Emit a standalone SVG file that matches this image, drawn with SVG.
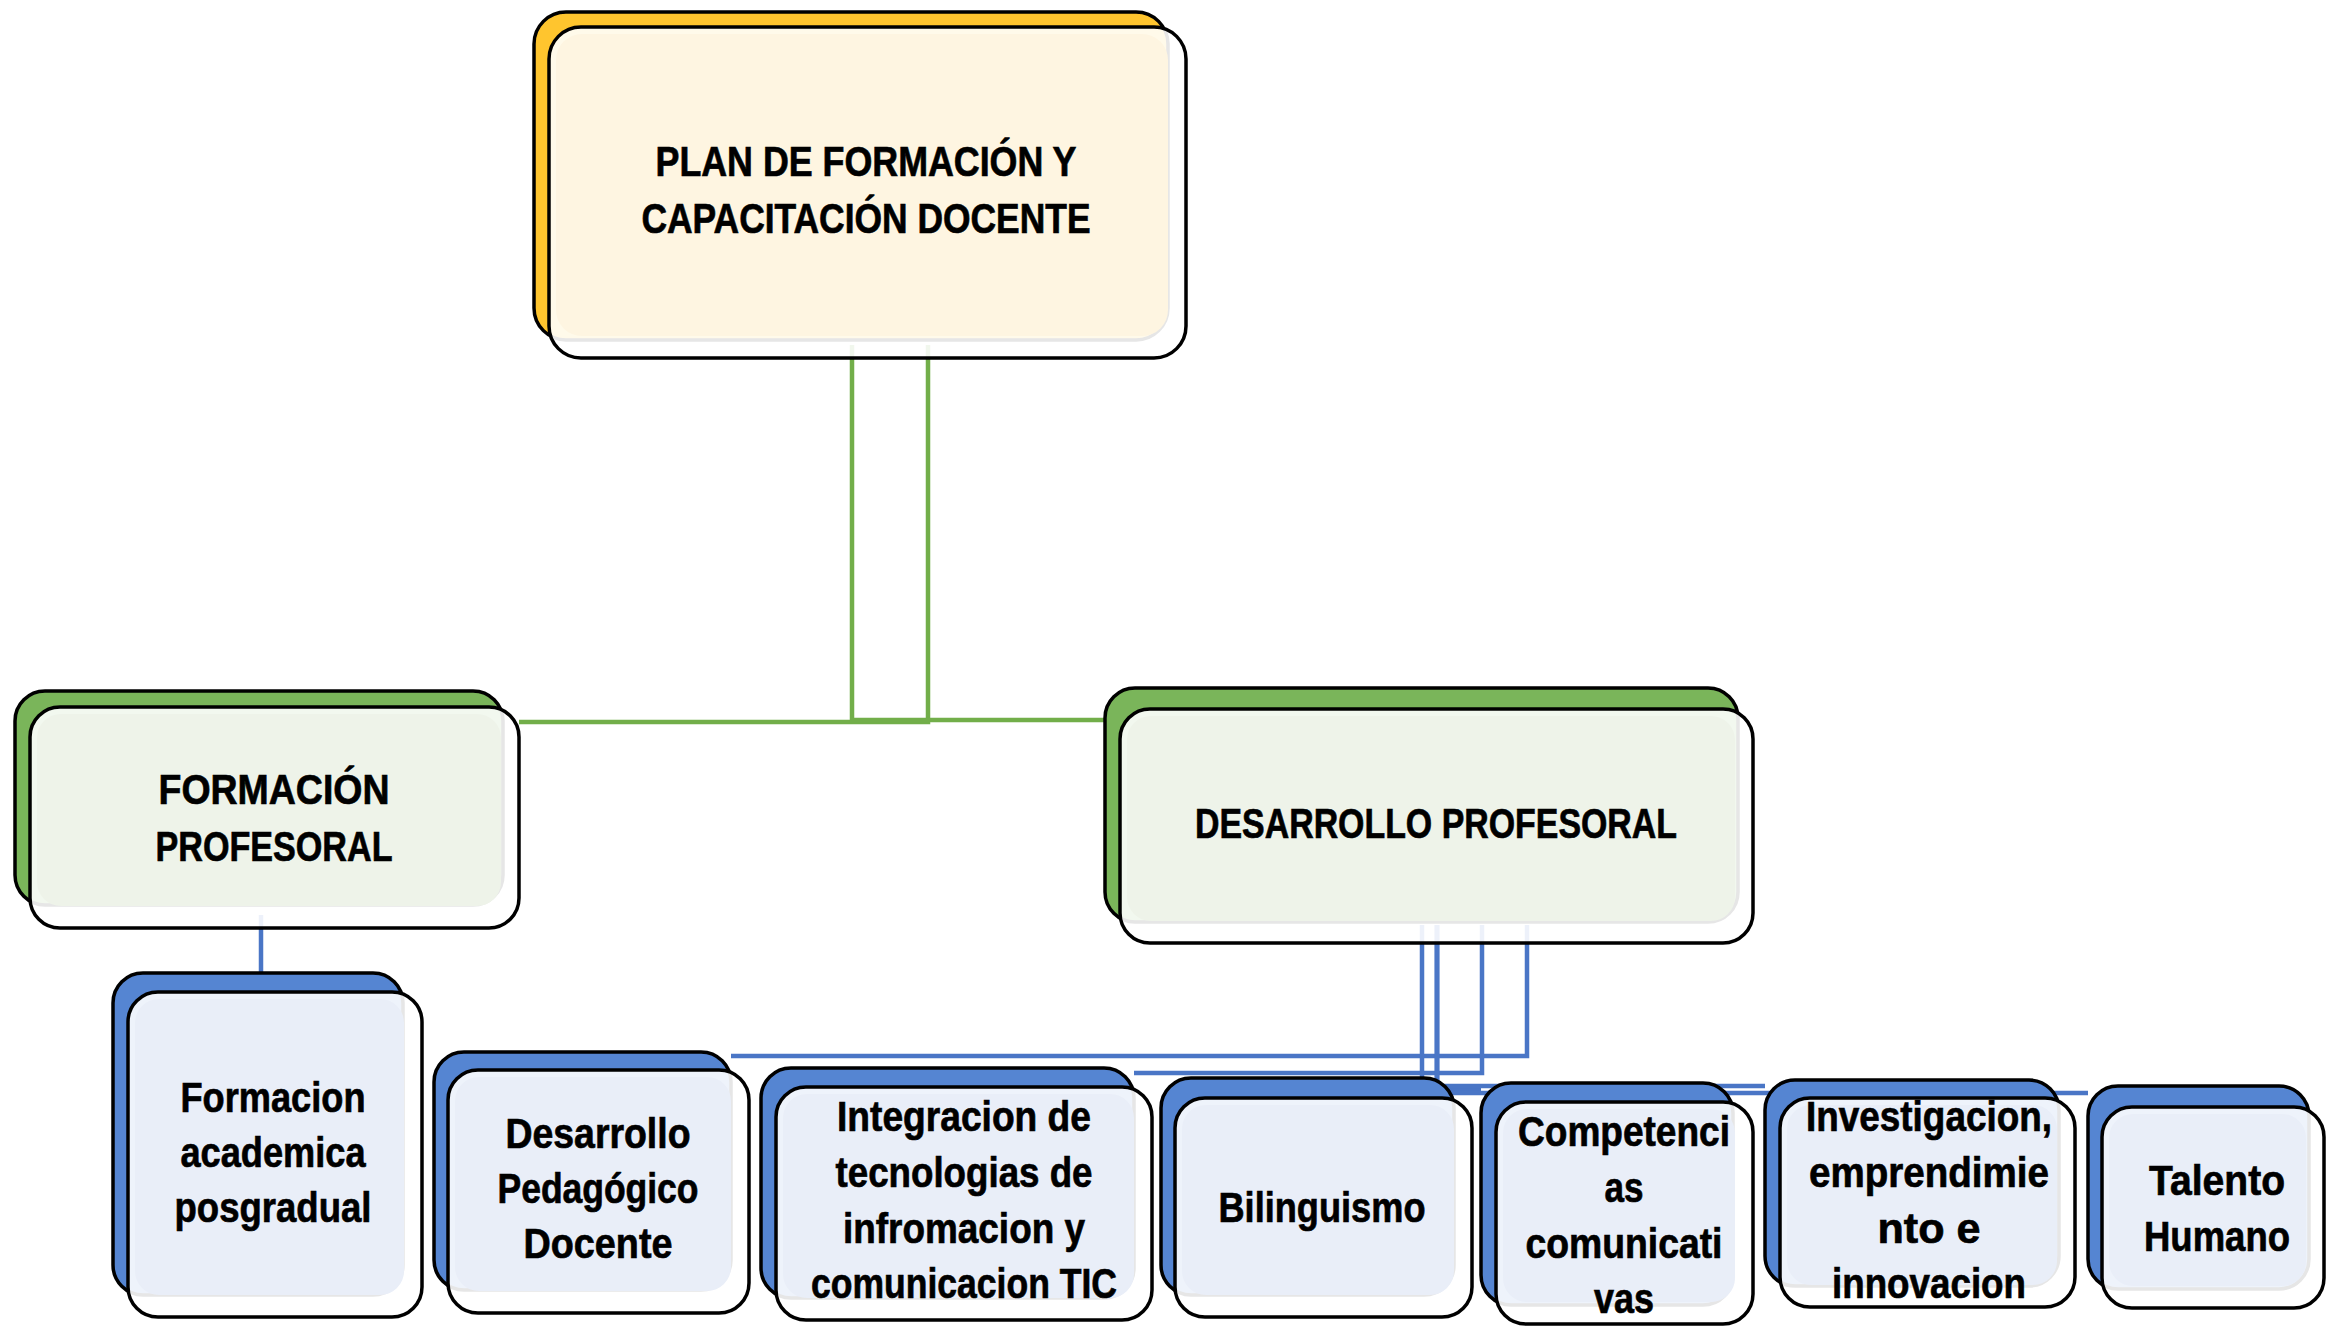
<svg xmlns="http://www.w3.org/2000/svg" width="2339" height="1326" viewBox="0 0 2339 1326">
<style>
.bg{fill:#ffffff}
.back{stroke:#000;stroke-width:3.5}
.by{fill:#FFC52E}
.bgr{fill:#7AB55A}
.bb{fill:#5585D2}
.front{fill:#ffffff;fill-opacity:0.9;stroke:#000;stroke-width:3.5}
.iy{fill:#FEF5E1}
.ig{fill:#EEF3E9}
.ib{fill:#E9EEF8}
.cg{fill:none;stroke:#72AE4A;stroke-width:4.5}
.cb{fill:none;stroke:#4A76C6;stroke-width:4.5}
.t{font-family:"Liberation Sans",Arial,sans-serif;font-weight:bold;font-size:43px;fill:#000;stroke:#000;stroke-width:0.7;text-anchor:middle}
</style>
<rect class="bg" x="0" y="0" width="2339" height="1326"/>
<g id="connectors">
<path class="cg" d="M928,345 V722 H519"/>
<path class="cg" d="M852,345 V720 H1105"/>
<path class="cb" d="M261,915 V975"/>
<path class="cb" d="M1527,925 V1056 H731"/>
<path class="cb" d="M1482,925 V1073 H1134"/>
<path class="cb" d="M1422,925 V1085"/>
<path class="cb" d="M1437,925 V1089 H1481"/>
<path class="cb" d="M1437,925 V1086 H1765"/>
<path class="cb" d="M1437,925 V1093 H2088"/>
</g>
<g id="node-plan">
<rect class="back by" x="534" y="12" width="634" height="328" rx="32"/>
<rect class="front" x="549" y="27" width="637" height="331" rx="32"/>
<rect class="iy" x="556" y="34" width="612" height="302" rx="26"/>
<text class="t" x="866" y="176" textLength="421" lengthAdjust="spacingAndGlyphs">PLAN DE FORMACIÓN Y</text>
<text class="t" x="866" y="233" textLength="449" lengthAdjust="spacingAndGlyphs">CAPACITACIÓN DOCENTE</text>
</g>
<g id="node-formacion-profesoral">
<rect class="back bgr" x="15" y="691" width="488" height="214" rx="30"/>
<rect class="front" x="30" y="707" width="489" height="221" rx="30"/>
<rect class="ig" x="37" y="714" width="464" height="192" rx="24"/>
<text class="t" x="274" y="804" textLength="231" lengthAdjust="spacingAndGlyphs">FORMACIÓN</text>
<text class="t" x="274" y="861" textLength="237" lengthAdjust="spacingAndGlyphs">PROFESORAL</text>
</g>
<g id="node-desarrollo-profesoral">
<rect class="back bgr" x="1105" y="688" width="633" height="234" rx="30"/>
<rect class="front" x="1120" y="709" width="633" height="234" rx="30"/>
<rect class="ig" x="1127" y="716" width="608" height="205" rx="24"/>
<text class="t" x="1436" y="838" textLength="482" lengthAdjust="spacingAndGlyphs">DESARROLLO PROFESORAL</text>
</g>
<g id="node-formacion-academica">
<rect class="back bb" x="113" y="973" width="290" height="322" rx="30"/>
<rect class="front" x="128" y="992" width="294" height="325" rx="30"/>
<rect class="ib" x="135" y="999" width="269" height="296" rx="24"/>
<text class="t" x="273" y="1112" textLength="185" lengthAdjust="spacingAndGlyphs">Formacion</text>
<text class="t" x="273" y="1167" textLength="185" lengthAdjust="spacingAndGlyphs">academica</text>
<text class="t" x="273" y="1222" textLength="197" lengthAdjust="spacingAndGlyphs">posgradual</text>
</g>
<g id="node-desarrollo-pedagogico">
<rect class="back bb" x="434" y="1052" width="297" height="238" rx="30"/>
<rect class="front" x="448" y="1070" width="301" height="243" rx="30"/>
<rect class="ib" x="455" y="1077" width="276" height="214" rx="24"/>
<text class="t" x="598" y="1148" textLength="185" lengthAdjust="spacingAndGlyphs">Desarrollo</text>
<text class="t" x="598" y="1203" textLength="201" lengthAdjust="spacingAndGlyphs">Pedagógico</text>
<text class="t" x="598" y="1258" textLength="149" lengthAdjust="spacingAndGlyphs">Docente</text>
</g>
<g id="node-integracion-tic">
<rect class="back bb" x="761" y="1068" width="373" height="230" rx="30"/>
<rect class="front" x="776" y="1087" width="376" height="233" rx="30"/>
<rect class="ib" x="783" y="1094" width="351" height="204" rx="24"/>
<text class="t" x="964" y="1131" textLength="254" lengthAdjust="spacingAndGlyphs">Integracion de</text>
<text class="t" x="964" y="1187" textLength="257" lengthAdjust="spacingAndGlyphs">tecnologias de</text>
<text class="t" x="964" y="1243" textLength="242" lengthAdjust="spacingAndGlyphs">infromacion y</text>
<text class="t" x="964" y="1298" textLength="306" lengthAdjust="spacingAndGlyphs">comunicacion TIC</text>
</g>
<g id="node-bilinguismo">
<rect class="back bb" x="1161" y="1078" width="293" height="217" rx="30"/>
<rect class="front" x="1175" y="1098" width="297" height="219" rx="30"/>
<rect class="ib" x="1182" y="1105" width="272" height="190" rx="24"/>
<text class="t" x="1322" y="1222" textLength="207" lengthAdjust="spacingAndGlyphs">Bilinguismo</text>
</g>
<g id="node-competencias">
<rect class="back bb" x="1481" y="1083" width="252" height="222" rx="30"/>
<rect class="front" x="1496" y="1102" width="257" height="222" rx="30"/>
<rect class="ib" x="1503" y="1109" width="232" height="193" rx="24"/>
<text class="t" x="1624" y="1146" textLength="212" lengthAdjust="spacingAndGlyphs">Competenci</text>
<text class="t" x="1624" y="1202" textLength="39" lengthAdjust="spacingAndGlyphs">as</text>
<text class="t" x="1624" y="1258" textLength="197" lengthAdjust="spacingAndGlyphs">comunicati</text>
<text class="t" x="1624" y="1313" textLength="60" lengthAdjust="spacingAndGlyphs">vas</text>
</g>
<g id="node-investigacion">
<rect class="back bb" x="1765" y="1080" width="294" height="206" rx="30"/>
<rect class="front" x="1780" y="1098" width="295" height="209" rx="30"/>
<rect class="ib" x="1787" y="1105" width="270" height="180" rx="24"/>
<text class="t" x="1929" y="1131" textLength="246" lengthAdjust="spacingAndGlyphs">Investigacion,</text>
<text class="t" x="1929" y="1187" textLength="240" lengthAdjust="spacingAndGlyphs">emprendimie</text>
<text class="t" x="1929" y="1243" textLength="103" lengthAdjust="spacingAndGlyphs">nto e</text>
<text class="t" x="1929" y="1298" textLength="194" lengthAdjust="spacingAndGlyphs">innovacion</text>
</g>
<g id="node-talento-humano">
<rect class="back bb" x="2088" y="1086" width="221" height="203" rx="30"/>
<rect class="front" x="2102" y="1107" width="222" height="201" rx="30"/>
<rect class="ib" x="2109" y="1114" width="197" height="172" rx="24"/>
<text class="t" x="2217" y="1195" textLength="136" lengthAdjust="spacingAndGlyphs">Talento</text>
<text class="t" x="2217" y="1251" textLength="146" lengthAdjust="spacingAndGlyphs">Humano</text>
</g>
</svg>
